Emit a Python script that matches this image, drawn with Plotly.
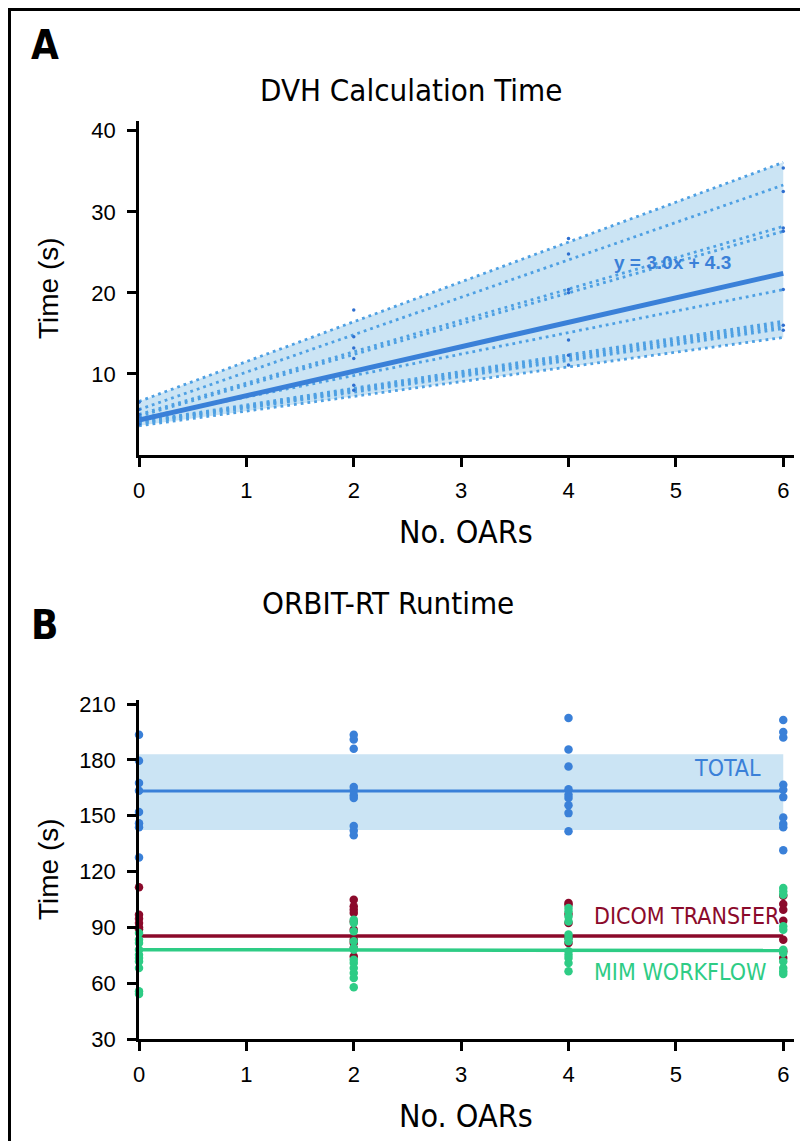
import plotly.graph_objects as go

# ---- Panel A: DVH calculation time (s) vs number of OARs ----
dvh_line_start = [6.6, 5.6, 5.0, 4.8, 4.5, 4.1, 4.0, 3.9, 3.8, 3.6]
dvh_line_end = [36.1, 33.3, 28.2, 27.6, 20.4, 16.5, 16.2, 15.9, 15.6, 14.5]
dvh_fit = [4.3, 22.4]
dvh_fit_label = "y = 3.0x + 4.3"

dvh_pts_x = [0, 0, 0, 0, 0, 0,
             2, 2, 2, 2, 2, 2,
             4, 4, 4, 4, 4, 4, 4,
             6, 6, 6, 6, 6, 6, 6]
dvh_pts_y = [6.5, 5.6, 5.0, 4.6, 4.2, 3.8,
             17.9, 14.6, 13.2, 11.9, 8.6, 8.0,
             26.7, 24.8, 20.4, 20.0, 14.2, 12.3, 11.1,
             35.4, 32.5, 28.0, 27.6, 20.4, 16.0, 15.4]

# ---- Panel B: ORBIT-RT runtime (s) vs number of OARs ----
total_x = [0] * 8 + [2] * 10 + [4] * 9 + [6] * 10
total_y = [193.5, 179.5, 167.6, 163.4, 152.0, 146.0, 143.8, 127.6,
           193.5, 191.0, 186.0, 165.5, 163.5, 161.0, 159.5, 144.5, 142.0, 139.5,
           202.5, 185.6, 176.4, 164.2, 161.3, 159.5, 155.6, 151.4, 141.6,
           201.4, 195.0, 192.0, 166.6, 164.0, 160.0, 149.0, 145.5, 143.8, 131.5]

dicom_x = [0] * 6 + [2] * 10 + [4] * 6 + [6] * 7
dicom_y = [111.5, 96.8, 94.6, 92.3, 90.0, 89.0,
           104.9, 101.3, 99.5, 97.7, 93.2, 88.7, 83.4, 81.6, 78.9, 74.4,
           103.1, 102.2, 97.2, 92.3, 84.3, 81.6,
           107.0, 102.5, 99.5, 93.6, 83.4, 77.1, 73.5]

mim_x = [0] * 10 + [2] * 12 + [4] * 12 + [6] * 11
mim_y = [87.0, 83.4, 81.6, 78.0, 75.3, 73.5, 71.7, 68.1, 55.6, 54.2,
         94.1, 92.3, 87.9, 82.5, 78.9, 78.0, 72.6, 70.8, 68.1, 65.5, 62.8, 57.8,
         100.4, 98.6, 95.9, 93.2, 86.1, 84.3, 82.5, 77.1, 75.3, 73.5, 70.8, 66.4,
         111.1, 109.4, 107.5, 90.6, 88.7, 78.0, 76.2, 71.7, 68.1, 66.4, 65.0]

total_mean = [163.3, 163.3]
total_band = [142.3, 183.1]
dicom_mean = [85.3, 85.3]
mim_mean = [78.0, 77.5]

line_x = [0, 6]

# ---- style ----
BLUE = "#3a80d8"
DOT_BLUE = "#4ea0e3"
PT_BLUE = "#2f6fd0"
BAND = "rgba(160,205,235,0.55)"
RED = "#8b0a2b"
GREEN = "#2ecc85"
NARROW = "'Liberation Sans Narrow', 'DejaVu Sans Condensed', 'Roboto Condensed', 'Arial Narrow', sans-serif"
SANS = "'Liberation Sans', Arial, Helvetica, sans-serif"

W, H = 808, 1141


def px_x(p):
    return p / W


def px_y(p):
    return 1 - p / H


fig = go.Figure()

# Panel A band (hull of patient lines)
fig.add_trace(go.Scatter(
    x=line_x, y=[max(dvh_line_start), max(dvh_line_end)],
    mode="lines", line=dict(width=0), showlegend=False,
    xaxis="x", yaxis="y", hoverinfo="skip",
))
fig.add_trace(go.Scatter(
    x=line_x, y=[min(dvh_line_start), min(dvh_line_end)],
    mode="lines", line=dict(width=0), fill="tonexty", fillcolor=BAND,
    showlegend=False, xaxis="x", yaxis="y", hoverinfo="skip",
))

# Per-patient dotted lines
for s, e in zip(dvh_line_start, dvh_line_end):
    fig.add_trace(go.Scatter(
        x=line_x, y=[s, e], mode="lines",
        line=dict(color=DOT_BLUE, width=2.8, dash="2.8px,4px"),
        showlegend=False, xaxis="x", yaxis="y",
    ))

fig.add_trace(go.Scatter(
    x=dvh_pts_x, y=dvh_pts_y, mode="markers",
    marker=dict(color=PT_BLUE, size=3.5),
    showlegend=False, xaxis="x", yaxis="y", cliponaxis=False,
))

fig.add_trace(go.Scatter(
    x=line_x, y=dvh_fit, mode="lines",
    line=dict(color=BLUE, width=5),
    showlegend=False, xaxis="x", yaxis="y",
))

# Panel B
fig.add_trace(go.Scatter(
    x=line_x, y=[total_band[1]] * 2, mode="lines", line=dict(width=0),
    showlegend=False, xaxis="x2", yaxis="y2", hoverinfo="skip",
))
fig.add_trace(go.Scatter(
    x=line_x, y=[total_band[0]] * 2, mode="lines", line=dict(width=0),
    fill="tonexty", fillcolor=BAND,
    showlegend=False, xaxis="x2", yaxis="y2", hoverinfo="skip",
))
fig.add_trace(go.Scatter(
    x=line_x, y=total_mean, mode="lines", line=dict(color=BLUE, width=3),
    showlegend=False, xaxis="x2", yaxis="y2",
))
fig.add_trace(go.Scatter(
    x=total_x, y=total_y, mode="markers",
    marker=dict(color=BLUE, size=8.5),
    showlegend=False, xaxis="x2", yaxis="y2", cliponaxis=False,
))
fig.add_trace(go.Scatter(
    x=dicom_x, y=dicom_y, mode="markers",
    marker=dict(color=RED, size=8.5),
    showlegend=False, xaxis="x2", yaxis="y2", cliponaxis=False,
))
fig.add_trace(go.Scatter(
    x=line_x, y=dicom_mean, mode="lines", line=dict(color=RED, width=3.5),
    showlegend=False, xaxis="x2", yaxis="y2",
))
fig.add_trace(go.Scatter(
    x=mim_x, y=mim_y, mode="markers",
    marker=dict(color=GREEN, size=8.5),
    showlegend=False, xaxis="x2", yaxis="y2", cliponaxis=False,
))
fig.add_trace(go.Scatter(
    x=line_x, y=mim_mean, mode="lines", line=dict(color=GREEN, width=3.5),
    showlegend=False, xaxis="x2", yaxis="y2",
))


def axis_style(**kw):
    d = dict(
        showline=True, linecolor="black", linewidth=2.5,
        ticks="outside", ticklen=9, tickwidth=2.5, tickcolor="black",
        showgrid=False, zeroline=False, automargin=False,
        tickfont=dict(family=SANS, size=22, color="black"),
        fixedrange=True,
    )
    d.update(kw)
    return d


x_dom = [px_x(131), px_x(786)]
xticks = [0, 1, 2, 3, 4, 5, 6]

fig.update_layout(
    width=W, height=H,
    margin=dict(l=0, r=0, t=0, b=0),
    paper_bgcolor="white", plot_bgcolor="white",
    showlegend=False,
    xaxis=axis_style(domain=x_dom, range=[0, 6.1], tickvals=xticks,
                     anchor="y", ticklabelstandoff=5),
    yaxis=axis_style(domain=[px_y(447), px_y(113)], range=[0, 41.2],
                     tickvals=[10, 20, 30, 40], anchor="x",
                     ticklabelstandoff=7),
    xaxis2=axis_style(domain=x_dom, range=[0, 6.1], tickvals=xticks,
                      anchor="y2", ticklabelstandoff=5),
    yaxis2=axis_style(domain=[px_y(1031), px_y(692)], range=[30, 212.2],
                      tickvals=[30, 60, 90, 120, 150, 180, 210], anchor="x2",
                      ticklabelstandoff=7),
)


def note(text, x, y, size, color="black", family=NARROW, xref="paper",
         yref="paper", xanchor="center", **kw):
    return dict(text=text, x=x, y=y, xref=xref, yref=yref, xanchor=xanchor,
                yanchor="middle", showarrow=False,
                font=dict(family=family, size=size, color=color), **kw)


ann = [
    note("<b>A</b>", px_x(21), px_y(37), 40, xanchor="left"),
    note("<b>B</b>", px_x(21), px_y(617), 40, xanchor="left"),
    note("DVH Calculation Time", px_x(403), px_y(82), 31),
    note("ORBIT-RT Runtime", px_x(380), px_y(595), 31),
    note("No. OARs", px_x(458), px_y(524), 32),
    note("No. OARs", px_x(458), px_y(1108), 32),
    note("Time (s)", px_x(40), px_y(280), 28, family=SANS, textangle=-90),
    note("Time (s)", px_x(40), px_y(861), 28, family=SANS, textangle=-90),
    note(f"<b>{dvh_fit_label}</b>", 4.97, 23.7, 19, color=BLUE, family=SANS,
         xref="x", yref="y"),
    note("TOTAL", 5.81, 175.6, 23, color=BLUE, xref="x2", yref="y2",
         xanchor="right"),
    note("DICOM TRANSFER", 4.22, 96.1, 23, color=RED, xref="x2", yref="y2",
         xanchor="left"),
    note("MIM WORKFLOW", 4.22, 66.0, 23, color=GREEN, xref="x2", yref="y2",
         xanchor="left"),
]

fig.update_layout(
    annotations=ann,
    shapes=[dict(type="rect", xref="paper", yref="paper",
                 x0=1.5 / W, x1=1 - 1.5 / W, y0=1.5 / H, y1=1 - 1.5 / H,
                 line=dict(color="black", width=3))],
)

fig.write_html("out.html")
